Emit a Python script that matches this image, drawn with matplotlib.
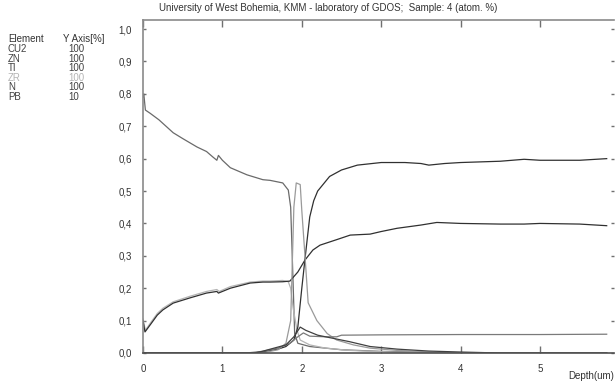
import matplotlib
matplotlib.use("Agg")
import matplotlib.pyplot as plt
from matplotlib.ticker import FuncFormatter

plt.rcParams['font.family'] = ['Liberation Sans', 'DejaVu Sans']

# legend table (element, Y axis scale)
elements = ["CU2", "ZN", "TI", "ZR", "N", "PB"]
scales = ["100", "100", "100", "100", "100", "10"]
elem_colors = ["#404040", "#404040", "#404040", "#b4b4b4", "#404040", "#404040"]

# depth profiles (depth in um, fraction)
top_x = [0, 0.01, 0.03, 0.09, 0.2, 0.38, 0.5, 0.68, 0.8, 0.88, 0.93, 0.95, 1.0, 1.1, 1.31,
         1.51, 1.6, 1.7, 1.76, 1.83, 1.86, 1.89, 1.91, 1.95, 2.1, 2.5, 3.0, 4.0, 5.84]
top_y = [0.79, 0.80, 0.75, 0.74, 0.72, 0.68, 0.662, 0.636, 0.622, 0.605, 0.595, 0.61, 0.595, 0.572, 0.55,
         0.535, 0.533, 0.528, 0.525, 0.503, 0.45, 0.22, 0.06, 0.03, 0.02, 0.01, 0.005, 0.0, 0.0]

spike_x = [0, 1.5, 1.7, 1.8, 1.86, 1.90, 1.93, 1.98, 2.0, 2.04, 2.08, 2.19, 2.32, 2.44,
           2.65, 2.86, 3.2, 3.6, 4.0, 5.84]
spike_y = [0, 0.0, 0.01, 0.03, 0.1, 0.45, 0.525, 0.52, 0.44, 0.30, 0.155, 0.10, 0.06, 0.04,
           0.025, 0.015, 0.008, 0.003, 0.0, 0.0]

high_x = [0, 1.4, 1.5, 1.7, 1.8, 1.9, 1.95, 2.0, 2.04, 2.1, 2.15, 2.2, 2.35, 2.5, 2.7, 3.0,
          3.3, 3.5, 3.6, 3.8, 4.0, 4.5, 4.8, 5.0, 5.5, 5.84]
high_y = [0, 0, 0.003, 0.012, 0.02, 0.04, 0.08, 0.2, 0.29, 0.42, 0.47, 0.50, 0.545, 0.565, 0.58, 0.588,
          0.588, 0.585, 0.58, 0.585, 0.588, 0.592, 0.598, 0.595, 0.595, 0.60]

mid_x = [0, 0.025, 0.1, 0.18, 0.25, 0.38, 0.59, 0.8, 0.93, 0.95, 1.1, 1.35, 1.51, 1.6, 1.76,
         1.85, 1.95, 2.04, 2.14, 2.23, 2.44, 2.61, 2.86, 3.0, 3.2, 3.5, 3.7, 4.0, 4.5, 4.8,
         5.0, 5.5, 5.84]
mid_y = [0.10, 0.065, 0.09, 0.117, 0.133, 0.154, 0.17, 0.185, 0.19, 0.185, 0.20, 0.216, 0.219, 0.219, 0.22,
         0.222, 0.25, 0.287, 0.318, 0.333, 0.35, 0.364, 0.367, 0.375, 0.385, 0.395, 0.403, 0.40, 0.398, 0.398,
         0.40, 0.398, 0.393]

drop_x = [0, 0.03, 0.1, 0.18, 0.25, 0.38, 0.59, 0.8, 0.93, 0.96, 1.1, 1.35, 1.51, 1.6, 1.76,
          1.83, 1.86, 1.89, 1.94, 1.98, 2.1, 2.3, 2.6, 3.0, 3.5, 5.84]
drop_y = [0.105, 0.07, 0.095, 0.122, 0.138, 0.158, 0.175, 0.19, 0.196, 0.19, 0.205, 0.219, 0.222, 0.222, 0.224,
          0.22, 0.20, 0.14, 0.07, 0.04, 0.025, 0.015, 0.008, 0.004, 0.0, 0.0]

flat_x = [0, 1.3, 1.5, 1.7, 1.85, 1.95, 2.02, 2.1, 2.3, 2.44, 2.5, 3.0, 4.0, 5.0, 5.84]
flat_y = [0, 0, 0.005, 0.015, 0.03, 0.05, 0.062, 0.052, 0.05, 0.05, 0.055, 0.056, 0.057, 0.057, 0.058]

tail_x = [0, 1.4, 1.5, 1.8, 1.9, 1.98, 2.05, 2.2, 2.4, 2.6, 2.86, 3.2, 3.6, 4.0, 4.5, 5.84]
tail_y = [0, 0, 0.005, 0.025, 0.05, 0.08, 0.07, 0.055, 0.045, 0.035, 0.02, 0.012, 0.006, 0.003, 0.0, 0.0]

fig = plt.figure(figsize=(6.16, 3.83), dpi=100)
ax = fig.add_axes([143/616, 1 - 353/383, (614 - 143)/616, (353 - 20)/383])

ax.plot(top_x, top_y, color="#6a6a6a", lw=0.9)
ax.plot(drop_x, drop_y, color="#b4b4b4", lw=0.9)
ax.plot(mid_x, mid_y, color="#303030", lw=0.9)
ax.plot(high_x, high_y, color="#303030", lw=0.9)
ax.plot(spike_x, spike_y, color="#9a9a9a", lw=0.9)
ax.plot(flat_x, flat_y, color="#7a7a7a", lw=0.9)
ax.plot(tail_x, tail_y, color="#404040", lw=0.9)

ax.set_xlim(0, (614 - 143)/79.4)
ax.set_ylim(0, 1.028)
ax.set_xticks([0, 1, 2, 3, 4, 5])
ax.set_yticks([i/10 for i in range(11)])
ax.yaxis.set_major_formatter(FuncFormatter(lambda v, p: ("%.1f" % v).replace(".", ",")))
ax.tick_params(axis="both", direction="in", labelsize=7, colors="#707070", labelcolor="#333333",
               length=4, width=1, pad=8)
ax.tick_params(axis="x", top=True, length=5)
ax.tick_params(axis="y", right=True, length=2)

ax.spines["right"].set_visible(False)
ax.spines["left"].set_color("#8a8a8a")
ax.spines["top"].set_color("#8a8a8a")
ax.spines["bottom"].set_color("#505050")
for s in ax.spines.values():
    s.set_linewidth(1.2)

fig.text(328/616, 1 - 8/383, "University of West Bohemia, KMM - laboratory of GDOS;  Sample: 4 (atom. %)",
         ha="center", va="center", fontsize=7, color="#333333")
fig.text(614/616, 1 - 376/383, "Depth(um)", ha="right", va="center", fontsize=7, color="#333333")

fig.text(8/616, 1 - 39/383, "Element", ha="left", va="center", fontsize=7, color="#333333")
fig.text(63/616, 1 - 39/383, "Y Axis[%]", ha="left", va="center", fontsize=7, color="#333333")
for i, (el, sc, c) in enumerate(zip(elements, scales, elem_colors)):
    y = 1 - (49 + i*9.6)/383
    fig.text(8/616, y, el, ha="left", va="center", fontsize=7, color=c)
    fig.text(68/616, y, sc, ha="left", va="center", fontsize=7, color=c)

fig.savefig("out.png", dpi=100)
